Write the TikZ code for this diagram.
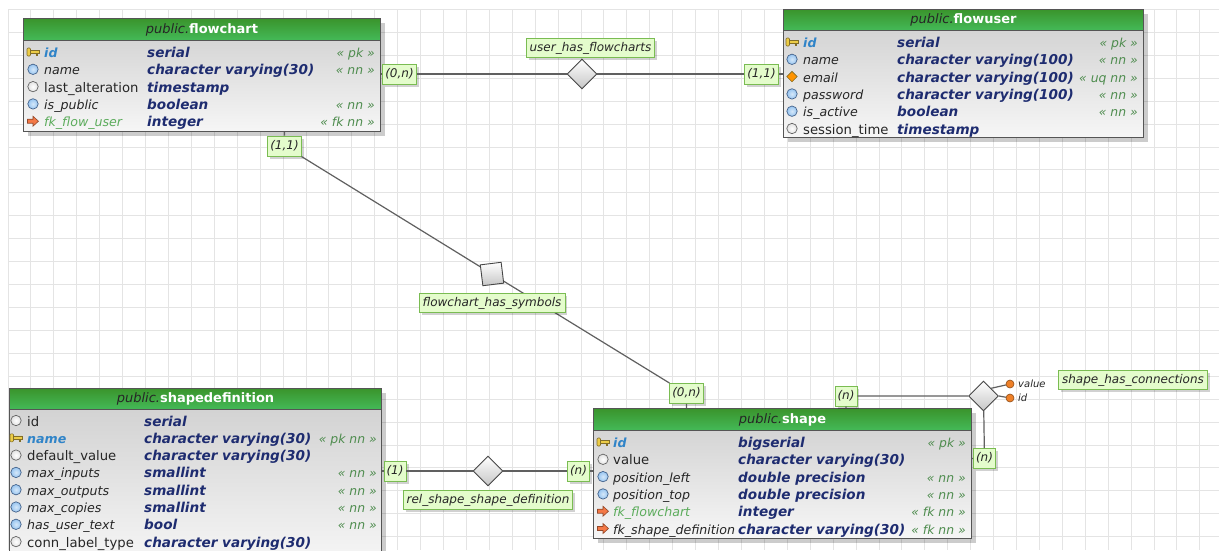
\documentclass[tikz,border=0pt]{standalone}
\usepackage{fontspec}
\setmainfont{DejaVu Sans}
\usetikzlibrary{shapes.geometric,shadows}

\definecolor{gridgray}{RGB}{228,228,228}
\definecolor{tblline}{RGB}{85,85,85}
\definecolor{headtop}{RGB}{58,148,44}
\definecolor{headbot}{RGB}{68,186,88}
\definecolor{bodytop}{RGB}{206,206,206}
\definecolor{bodybot}{RGB}{246,246,246}
\definecolor{typeblue}{RGB}{30,44,112}
\definecolor{pkblue}{RGB}{48,132,200}
\definecolor{fkgreen}{RGB}{92,172,92}
\definecolor{consgreen}{RGB}{78,140,78}
\definecolor{lblfill}{RGB}{228,252,204}
\definecolor{lblline}{RGB}{122,188,82}
\definecolor{relgray}{RGB}{96,96,96}
\definecolor{keyfill}{RGB}{236,204,70}
\definecolor{keyline}{RGB}{130,110,40}
\definecolor{nnfill}{RGB}{150,196,240}
\definecolor{nnline}{RGB}{70,100,140}
\definecolor{fkfill}{RGB}{244,120,70}
\definecolor{attrfill}{RGB}{238,128,40}

\newcommand{\rowfont}{\fontsize{13.2}{16}\selectfont}
\newcommand{\lblfont}{\fontsize{12}{14}\selectfont}
\newcommand{\pkname}[1]{{\fontsize{12.6}{15}\selectfont\bfseries\itshape\color{pkblue}#1}}
\newcommand{\nnname}[1]{{\fontsize{12.6}{15}\selectfont\itshape #1}}
\newcommand{\fkname}[1]{{\fontsize{12.6}{15}\selectfont\itshape\color{fkgreen}#1}}
\newcommand{\typ}[1]{{\fontsize{13.6}{16}\selectfont\bfseries\itshape\color{typeblue}#1}}
\newcommand{\cons}[1]{{\fontsize{12.4}{15}\selectfont\itshape\color{consgreen}« #1 »}}
\newcommand{\headtxt}[1]{\textit{\color{black!85}public.}\textbf{\color{white}#1}}

% one column of a table: name, y, icon, name, type, constraint
\newcommand{\colrow}[6]{%
  \pic at (\iconx,#2) {#3};
  \node[colname] (#1-n) at (\namex,#2) {#4};
  \node[coltype] (#1-t) at (\typex,#2) {#5};
  \node[colcons] (#1-c) at (\consx,#2) {#6};
}

\tikzset{
  gridline/.style={draw=gridgray,line width=.9},
  tblbody/.style={anchor=north west,draw=tblline,line width=1,inner sep=0,
    top color=bodytop,bottom color=bodybot,
    drop shadow={shadow xshift=4pt,shadow yshift=-4pt,fill=black,opacity=.2}},
  tblhead/.style={anchor=north west,draw=tblline,line width=1,inner sep=0,
    top color=headtop,bottom color=headbot,minimum height=22,
    font=\fontsize{13}{15}\selectfont,text height=10,text depth=3},
  colname/.style={anchor=west,inner sep=0,font=\rowfont,text=black!85,
    text height=12.5,text depth=1.5},
  coltype/.style={colname},
  colcons/.style={colname,anchor=east},
  card/.style={draw=lblline,fill=lblfill,line width=.9,inner xsep=2.5,inner ysep=4,
    font=\lblfont\itshape,text=black!85,text height=9,text depth=3,
    drop shadow={shadow xshift=2.5pt,shadow yshift=-2.5pt,fill=black,opacity=.18}},
  rellabel/.style={card,inner xsep=3.5,inner ysep=3.5},
  reldiam/.style={diamond,draw=gray!55!black,line width=.9,inner sep=0,
    minimum width=30,minimum height=30,top color=white,bottom color=gray!45},
  relsquare/.style={rectangle,draw=gray!55!black,line width=.9,inner sep=0,
    minimum size=21,top color=white,bottom color=gray!45},
  relline/.style={draw=relgray,line width=1.2},
  attrdot/.style={circle,draw=attrfill!60!black,fill=attrfill,line width=.6,
    inner sep=0,minimum size=8},
  attrtxt/.style={anchor=west,inner sep=0,font=\fontsize{10}{12}\selectfont\itshape,
    text=black!85},
  keyicon/.pic={
    \draw[draw=keyline,fill=keyfill,line width=.6,rounded corners=1] (-6,-4) rectangle (-2.5,4);
    \draw[draw=keyline,fill=keyfill,line width=.6] (-2.5,-2) -- (6,-2) -- (6,1)
      -- (4.5,1) -- (4.5,3) -- (2.8,3) -- (2.8,1) -- (-2.5,1) -- cycle;
  },
  nnicon/.pic={
    \draw[draw=nnline,inner color=nnfill!40,outer color=nnfill,line width=.7] (0,0) circle (5.2);
  },
  nullicon/.pic={
    \draw[draw=black!60,inner color=white,outer color=black!12,line width=.7] (0,0) circle (5.2);
  },
  uqicon/.pic={
    \draw[draw=keyline,fill=orange!85!yellow,line width=.6] (-5.2,0) -- (0,-5.2)
      -- (5.2,0) -- (0,5.2) -- cycle;
  },
  fkicon/.pic={
    \draw[draw=fkfill!60!black,fill=fkfill,line width=.6] (-5.5,-2) -- (0,-2)
      -- (0,-5) -- (5.5,0) -- (0,5) -- (0,2) -- (-5.5,2) -- cycle;
  },
}

\begin{document}
\begin{tikzpicture}[x=1pt,y=-1pt]
\useasboundingbox[fill=white] (0,0) rectangle (1219,550);
% background grid
\foreach \i in {0,...,52}
  \draw[gridline] ({8+22.92*\i},9.5) -- ({8+22.92*\i},550);
\foreach \j in {0,...,23}
  \draw[gridline] (8,{9.5+22.92*\j}) -- (1219,{9.5+22.92*\j});

% table flowchart
\node[tblbody,minimum width=357,minimum height=113] (flowchart) at (23,18) {};
\node[tblhead,minimum width=357] (flowchart-head) at (23,18) {\headtxt{flowchart}};
\def\iconx{33}\def\namex{44}\def\typex{147}\def\consx{375}
\colrow{fc1}{52}{keyicon}{\pkname{id}}{\typ{serial}}{\cons{pk}}
\colrow{fc2}{69.3}{nnicon}{\nnname{name}}{\typ{character varying(30)}}{\cons{nn}}
\colrow{fc3}{86.6}{nullicon}{last\_alteration}{\typ{timestamp}}{}
\colrow{fc4}{103.9}{nnicon}{\nnname{is\_public}}{\typ{boolean}}{\cons{nn}}
\colrow{fc5}{121.2}{fkicon}{\fkname{fk\_flow\_user}}{\typ{integer}}{\cons{fk nn}}

% table flowuser
\node[tblbody,minimum width=360,minimum height=128] (flowuser) at (783,9) {};
\node[tblhead,minimum width=360,minimum height=21] (flowuser-head) at (783,9) {\headtxt{flowuser}};
\def\iconx{792}\def\namex{803}\def\typex{897}\def\consx{1138}
\colrow{fu1}{42}{keyicon}{\pkname{id}}{\typ{serial}}{\cons{pk}}
\colrow{fu2}{59.3}{nnicon}{\nnname{name}}{\typ{character varying(100)}}{\cons{nn}}
\colrow{fu3}{76.6}{uqicon}{\nnname{email}}{\typ{character varying(100)}}{\cons{uq nn}}
\colrow{fu4}{93.9}{nnicon}{\nnname{password}}{\typ{character varying(100)}}{\cons{nn}}
\colrow{fu5}{111.2}{nnicon}{\nnname{is\_active}}{\typ{boolean}}{\cons{nn}}
\colrow{fu6}{128.5}{nullicon}{session\_time}{\typ{timestamp}}{}

% table shapedefinition
\node[tblbody,minimum width=372,minimum height=175] (shapedef) at (9,388) {};
\node[tblhead,minimum width=372,minimum height=21] (shapedef-head) at (9,388) {\headtxt{shapedefinition}};
\def\iconx{16}\def\namex{27}\def\typex{144}\def\consx{377}
\colrow{sd1}{420.5}{nullicon}{id}{\typ{serial}}{}
\colrow{sd2}{437.8}{keyicon}{\pkname{name}}{\typ{character varying(30)}}{\cons{pk nn}}
\colrow{sd3}{455.1}{nullicon}{default\_value}{\typ{character varying(30)}}{}
\colrow{sd4}{472.4}{nnicon}{\nnname{max\_inputs}}{\typ{smallint}}{\cons{nn}}
\colrow{sd5}{489.7}{nnicon}{\nnname{max\_outputs}}{\typ{smallint}}{\cons{nn}}
\colrow{sd6}{507}{nnicon}{\nnname{max\_copies}}{\typ{smallint}}{\cons{nn}}
\colrow{sd7}{524.3}{nnicon}{\nnname{has\_user\_text}}{\typ{bool}}{\cons{nn}}
\colrow{sd8}{541.6}{nullicon}{conn\_label\_type}{\typ{character varying(30)}}{}

% table shape
\node[tblbody,minimum width=378,minimum height=130] (shapetbl) at (593,408) {};
\node[tblhead,minimum width=378] (shapetbl-head) at (593,408) {\headtxt{shape}};
\def\iconx{603}\def\namex{613}\def\typex{738}\def\consx{966}
\colrow{sh1}{442}{keyicon}{\pkname{id}}{\typ{bigserial}}{\cons{pk}}
\colrow{sh2}{459.3}{nullicon}{value}{\typ{character varying(30)}}{}
\colrow{sh3}{476.6}{nnicon}{\nnname{position\_left}}{\typ{double precision}}{\cons{nn}}
\colrow{sh4}{493.9}{nnicon}{\nnname{position\_top}}{\typ{double precision}}{\cons{nn}}
\colrow{sh5}{511.2}{fkicon}{\fkname{fk\_flowchart}}{\typ{integer}}{\cons{fk nn}}
\colrow{sh6}{528.5}{fkicon}{\nnname{fk\_shape\_definition}}{\typ{character varying(30)}}{\cons{fk nn}}

% user_has_flowcharts
\node[card] (c01) at (399.5,74) {(0,n)};
\node[reldiam] (duf) at (582,74) {};
\node[card] (c02) at (761.5,74) {(1,1)};
\draw[relline] (flowchart.east |- c01) -- (c01) -- (duf) -- (c02) -- (flowuser.west |- c02);
\node[rellabel] (luf) at (590.5,48) {user\_has\_flowcharts};

% flowchart_has_symbols
\node[card] (c03) at (284.5,146) {(1,1)};
\node[relsquare,rotate=7] (dfs) at (492,274) {};
\node[card] (c04) at (686.5,393.5) {(0,n)};
\draw[relline] (flowchart.south -| c03) -- (c03) -- (dfs) -- (c04) -- (shapetbl.north -| c04);
\node[rellabel] (lfs) at (492,303) {flowchart\_has\_symbols};

% rel_shape_shape_definition
\node[card] (c05) at (395,471) {(1)};
\node[reldiam] (drs) at (488,471) {};
\node[card] (c06) at (578.5,471) {(n)};
\draw[relline] (shapedef.east |- c05) -- (c05) -- (drs) -- (c06) -- (shapetbl.west |- c06);
\node[rellabel] (lrs) at (488,500) {rel\_shape\_shape\_definition};

% shape_has_connections
\node[card] (c07) at (846,396) {(n)};
\node[reldiam] (dsc) at (983.5,396) {};
\node[card] (c08) at (984.5,458.5) {(n)};
\draw[relline] (shapetbl.north -| c07) -- (c07) -- (dsc) -- (c08) -- (shapetbl.east |- c08);
\node[attrdot] (a01) at (1010,384) {};
\node[attrdot] (a02) at (1010,398) {};
\draw[relline] (dsc.north east) -- (a01);
\draw[relline] (dsc.east) -- (a02);
\node[attrtxt] (t01) at (1018,384) {value};
\node[attrtxt] (t02) at (1018,398) {id};
\node[rellabel] (lsc) at (1133,380) {shape\_has\_connections};
\end{tikzpicture}
\end{document}
